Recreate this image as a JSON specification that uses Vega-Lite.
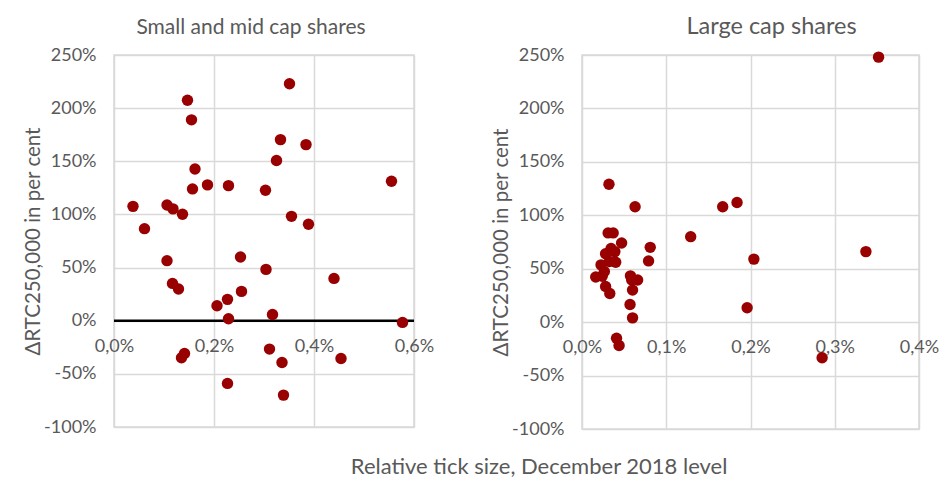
{
  "$schema": "https://vega.github.io/schema/vega-lite/v6.json",
  "background": "white",
  "padding": {"left": 22, "top": 13, "right": 5, "bottom": 8},
  "config": {
    "locale": {"number": {"decimal": ",", "thousands": ".", "grouping": [3], "currency": ["", " €"], "minus": "-"}},
    "font": "Lato",
    "view": {"stroke": "#d9d9d9", "strokeWidth": 1.5},
    "axis": {"labelColor": "#595959", "labelFontSize": 18, "titleColor": "#595959", "titleFontSize": 20.5, "titleFontWeight": "normal", "labelFlush": false},
    "title": {"color": "#595959", "fontSize": 21, "fontWeight": "normal"}
  },
  "datasets": {
    "small": [
      {"tick": 0.00351, "rtc": 2.229}, {"tick": 0.00147, "rtc": 2.074}, {"tick": 0.00155, "rtc": 1.89},
      {"tick": 0.00333, "rtc": 1.704}, {"tick": 0.00384, "rtc": 1.657}, {"tick": 0.00325, "rtc": 1.507},
      {"tick": 0.00162, "rtc": 1.428}, {"tick": 0.00187, "rtc": 1.278}, {"tick": 0.00157, "rtc": 1.24},
      {"tick": 0.00229, "rtc": 1.271}, {"tick": 0.00303, "rtc": 1.227}, {"tick": 0.00555, "rtc": 1.312},
      {"tick": 0.00038, "rtc": 1.076}, {"tick": 0.00106, "rtc": 1.089}, {"tick": 0.00118, "rtc": 1.052},
      {"tick": 0.00137, "rtc": 1.001}, {"tick": 0.00355, "rtc": 0.982}, {"tick": 0.00389, "rtc": 0.907},
      {"tick": 0.00061, "rtc": 0.866}, {"tick": 0.00106, "rtc": 0.565}, {"tick": 0.00253, "rtc": 0.60},
      {"tick": 0.00304, "rtc": 0.483}, {"tick": 0.0044, "rtc": 0.398}, {"tick": 0.00117, "rtc": 0.351},
      {"tick": 0.00129, "rtc": 0.298}, {"tick": 0.00255, "rtc": 0.276}, {"tick": 0.00227, "rtc": 0.201},
      {"tick": 0.00206, "rtc": 0.141}, {"tick": 0.00317, "rtc": 0.059}, {"tick": 0.00229, "rtc": 0.019},
      {"tick": 0.00577, "rtc": -0.016}, {"tick": 0.00311, "rtc": -0.267}, {"tick": 0.00141, "rtc": -0.308},
      {"tick": 0.00135, "rtc": -0.348}, {"tick": 0.00336, "rtc": -0.393}, {"tick": 0.00454, "rtc": -0.355},
      {"tick": 0.00227, "rtc": -0.59}, {"tick": 0.00339, "rtc": -0.70}
    ],
    "large": [
      {"tick": 0.00352, "rtc": 2.48}, {"tick": 0.00032, "rtc": 1.29}, {"tick": 0.00063, "rtc": 1.08},
      {"tick": 0.00167, "rtc": 1.08}, {"tick": 0.00184, "rtc": 1.12}, {"tick": 0.00031, "rtc": 0.835},
      {"tick": 0.00037, "rtc": 0.835}, {"tick": 0.00047, "rtc": 0.74}, {"tick": 0.00129, "rtc": 0.80},
      {"tick": 0.00081, "rtc": 0.70}, {"tick": 0.000345, "rtc": 0.69}, {"tick": 0.00039, "rtc": 0.66},
      {"tick": 0.00028, "rtc": 0.64}, {"tick": 0.00337, "rtc": 0.66}, {"tick": 0.00204, "rtc": 0.59},
      {"tick": 0.00079, "rtc": 0.573}, {"tick": 0.0004, "rtc": 0.56}, {"tick": 0.000325, "rtc": 0.567},
      {"tick": 0.000226, "rtc": 0.536}, {"tick": 0.000265, "rtc": 0.474}, {"tick": 0.000163, "rtc": 0.423},
      {"tick": 0.00024, "rtc": 0.43}, {"tick": 0.000575, "rtc": 0.433}, {"tick": 0.00066, "rtc": 0.395},
      {"tick": 0.00059, "rtc": 0.395}, {"tick": 0.00028, "rtc": 0.334}, {"tick": 0.00033, "rtc": 0.268},
      {"tick": 0.0006, "rtc": 0.30}, {"tick": 0.00057, "rtc": 0.165}, {"tick": 0.00196, "rtc": 0.134},
      {"tick": 0.0006, "rtc": 0.04}, {"tick": 0.00041, "rtc": -0.15}, {"tick": 0.00044, "rtc": -0.218},
      {"tick": 0.00285, "rtc": -0.333}
    ]
  },
  "title": {"text": "Relative tick size, December 2018 level", "orient": "bottom", "anchor": "middle", "fontSize": 22, "offset": 18, "dx": 58},
  "spacing": 55,
  "hconcat": [
    {
      "width": 300,
      "height": 372,
      "title": {"text": "Small and mid cap shares", "offset": 8, "dx": -13},
      "layer": [
        {
          "data": {"values": [{}]},
          "mark": {"type": "rule", "color": "#000000", "strokeWidth": 2.5},
          "encoding": {"y": {"datum": 0, "type": "quantitative"}}
        },
        {
          "data": {"name": "small"},
          "mark": {"type": "circle", "size": 130, "color": "#990000", "opacity": 1},
          "encoding": {
            "x": {"field": "tick", "type": "quantitative", "scale": {"domain": [0, 0.006], "nice": false},
                  "axis": {"values": [0, 0.002, 0.004, 0.006], "format": ".1%", "title": null, "offset": -106, "labelPadding": 16, "grid": true, "gridColor": "#d9d9d9", "gridWidth": 1.5, "ticks": false, "domain": false}},
            "y": {"field": "rtc", "type": "quantitative", "scale": {"domain": [-1, 2.5], "nice": false},
                  "axis": {"values": [-1, -0.5, 0, 0.5, 1, 1.5, 2, 2.5], "format": ".0%", "title": "ΔRTC250,000 in per cent", "labelPadding": 18, "titlePadding": 0, "grid": true, "gridColor": "#d9d9d9", "gridWidth": 1.5, "ticks": false, "domain": false}}
          }
        }
      ]
    },
    {
      "width": 337,
      "height": 374,
      "title": {"text": "Large cap shares", "offset": 8, "dx": 21, "fontSize": 23.5},
      "data": {"name": "large"},
      "mark": {"type": "circle", "size": 130, "color": "#990000", "opacity": 1},
      "encoding": {
        "x": {"field": "tick", "type": "quantitative", "scale": {"domain": [0, 0.004], "nice": false},
              "axis": {"values": [0, 0.001, 0.002, 0.003, 0.004], "format": ".1%", "title": null, "offset": -107, "labelPadding": 16, "grid": true, "gridColor": "#d9d9d9", "gridWidth": 1.5, "ticks": false, "domain": false}},
        "y": {"field": "rtc", "type": "quantitative", "scale": {"domain": [-1, 2.5], "nice": false},
              "axis": {"values": [-1, -0.5, 0, 0.5, 1, 1.5, 2, 2.5], "format": ".0%", "title": "ΔRTC250,000 in per cent", "labelPadding": 18, "titlePadding": 0, "grid": true, "gridColor": "#d9d9d9", "gridWidth": 1.5, "ticks": false, "domain": false}}
      }
    }
  ]
}
